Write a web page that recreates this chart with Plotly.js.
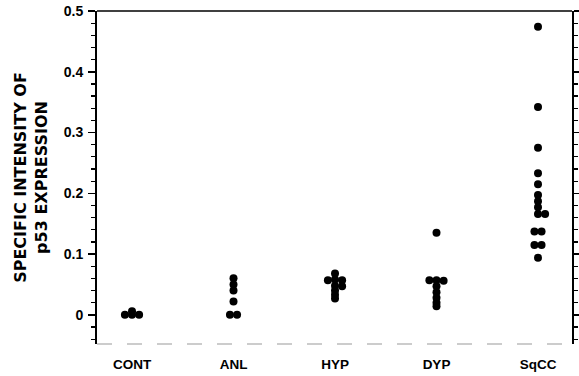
<!DOCTYPE html>
<html>
<head>
<meta charset="utf-8">
<script src="https://cdn.plot.ly/plotly-3.0.1.min.js"></script>
<style>html,body{margin:0;padding:0;background:#fff;}#chart{width:579px;height:376px;}</style>
</head>
<body>
<div id="chart"></div>
<script>
// Categories (tick labels)
const categories = ["CONT", "ANL", "HYP", "DYP", "SqCC"];

// Values per group (specific intensity of p53 expression)
const contValues = [0.006, 0.0, 0.0, 0.0];
const anlValues  = [0.060, 0.050, 0.040, 0.022, 0.0, 0.0];
const hypValues  = [0.068, 0.058, 0.057, 0.057, 0.048, 0.047, 0.040, 0.033, 0.027];
const dypValues  = [0.135, 0.057, 0.057, 0.056, 0.047, 0.037, 0.028, 0.020, 0.014];
const sqccValues = [0.474, 0.342, 0.275, 0.233, 0.215, 0.197, 0.187, 0.177, 0.166, 0.166, 0.137, 0.137, 0.115, 0.115, 0.094];

// Dot-plot column of each point within its group (-1 left, 0 centre, +1 right)
const contCols = [0, -1, 0, 1];
const anlCols  = [0, 0, 0, 0, -0.5, 0.5];
const hypCols  = [0, 0, -1, 1, 0, 1, 0, 0, 0];
const dypCols  = [0, -1, 0, 1, 0, 0, 0, 0, 0];
const sqccCols = [0, 0, 0, 0, 0, 0, 0, 0, 0, 1, -0.5, 0.5, -0.5, 0.5, 0];

const groups = [
  {vals: contValues, cols: contCols},
  {vals: anlValues, cols: anlCols},
  {vals: hypValues, cols: hypCols},
  {vals: dypValues, cols: dypCols},
  {vals: sqccValues, cols: sqccCols}
];

const dotStep = 0.07;
const xs = [], ys = [];
groups.forEach((g, i) => {
  g.vals.forEach((v, j) => { xs.push(i + g.cols[j] * dotStep); ys.push(v); });
});

const fam = "Liberation Sans, Arial, Helvetica, sans-serif";
const boldFont = (size, family) => ({family: family || fam, size: size, color: "#000", weight: "bold"});

const trace = {
  x: xs, y: ys, type: "scatter", mode: "markers",
  marker: {size: 8, color: "#000"},
  hoverinfo: "skip"
};

const layout = {
  width: 579, height: 376,
  margin: {l: 97, r: 7, t: 11, b: 32},
  paper_bgcolor: "#fff", plot_bgcolor: "#fff",
  showlegend: false,
  font: boldFont(13),
  xaxis: {
    range: [-0.345, 4.335],
    tickvals: categories.map((c, i) => i),
    ticktext: categories.map(c => "<b>" + c + "</b>"),
    showgrid: false, zeroline: false, showline: false,
    ticks: "", tickfont: boldFont(13.5),
    ticklabelstandoff: 10
  },
  yaxis: {
    range: [-0.048, 0.5],
    tickvals: [0, 0.1, 0.2, 0.3, 0.4, 0.5],
    ticktext: ["0", "0.1", "0.2", "0.3", "0.4", "0.5"].map(t => "<b>" + t + "</b>"),
    showgrid: false, zeroline: false,
    showline: true, linecolor: "#000", linewidth: 2,
    mirror: "ticks",
    ticks: "outside", ticklen: 7, tickwidth: 1.5, tickcolor: "#000",
    minor: {dtick: 0.02, tick0: 0, ticks: "outside", ticklen: 4, tickwidth: 1.2, tickcolor: "#000"},
    tickfont: boldFont(14),
    ticklabelstandoff: 2,
    title: {
      text: "<b>SPECIFIC INTENSITY OF<br>p53 EXPRESSION</b>",
      font: boldFont(16, "DejaVu Sans, Liberation Sans, Arial, sans-serif"),
      standoff: 12
    }
  },
  shapes: [
    {type: "line", xref: "paper", yref: "paper", x0: 0, x1: 1, y0: 1, y1: 1,
     line: {color: "#000", width: 1.5}},
    {type: "line", xref: "paper", yref: "paper", x0: 0, x1: 1, y0: 0, y1: 0,
     line: {color: "#999", width: 1.2, dash: "longdash"}}
  ]
};

Plotly.newPlot("chart", [trace], layout, {displayModeBar: false, staticPlot: true});
</script>
</body>
</html>
